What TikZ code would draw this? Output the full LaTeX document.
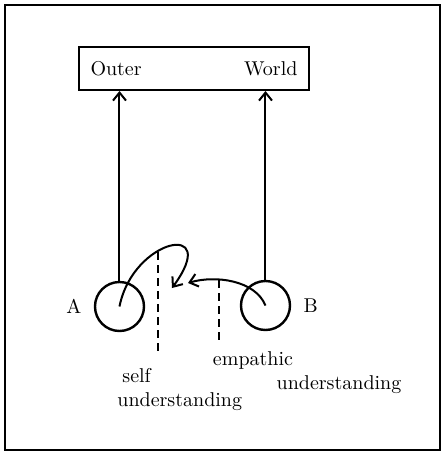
\documentclass[tikz,border=0pt]{standalone}
\usepackage{tikz}
\usetikzlibrary{arrows.meta}
\tikzset{
  wire/.style={line width=1pt, -{Straight Barb[length=4pt,width=6.5pt]}},
  box/.style={draw, line width=1pt, minimum width=115pt, minimum height=21.5pt, inner xsep=5.5pt, text width=103.5pt},
  person/.style={circle, draw, line width=1.2pt, minimum size=24.5pt, inner sep=0pt},
  leader/.style={line width=1.2pt, dash pattern=on 4pt off 2.5pt},
  lbl/.style={inner sep=0pt, font=\normalsize}
}
\begin{document}
\begin{tikzpicture}[x=0.5pt,y=-0.5pt]
  \useasboundingbox (0,0) rectangle (442,452);
  \draw[line width=1pt] (5,5) rectangle (440,450);
  % outer world and the two persons
  \node[box] (world) at (194,68.5) {Outer\hfill World};
  \node[person, label={[lbl,label distance=6pt]left:A}] (A) at (119.5,306.5) {};
  \node[person, label={[lbl,label distance=6pt]right:B}] (B) at (265.5,305.5) {};
  \draw[wire] (A.north) -- (A.north |- world.south);
  \draw[wire] (B.north) -- (B.north |- world.south);
  % understanding arrows
  \coordinate (selftip) at (172,288);
  \coordinate (emptip) at (188,283);
  \draw[wire] (A.center) .. controls (133,238) and (222,220) .. (selftip);
  \draw[wire] (B.center) .. controls (255,280) and (215,275) .. (emptip);
  % leaders and labels
  \coordinate (selftop) at (158,252);
  \coordinate (selfbot) at (158,352);
  \coordinate (emptop) at (219,280);
  \coordinate (empbot) at (219,344);
  \draw[leader] (selftop) -- (selfbot);
  \draw[leader] (emptop) -- (empbot);
  \node[lbl, align=left, anchor=north west] (self) at (117,368) {\hspace*{2.5pt}self\\understanding};
  \node[lbl] (emp) at (253,360) {empathic};
  \node[lbl] (empund) at (339,385) {understanding};
\end{tikzpicture}
\end{document}
